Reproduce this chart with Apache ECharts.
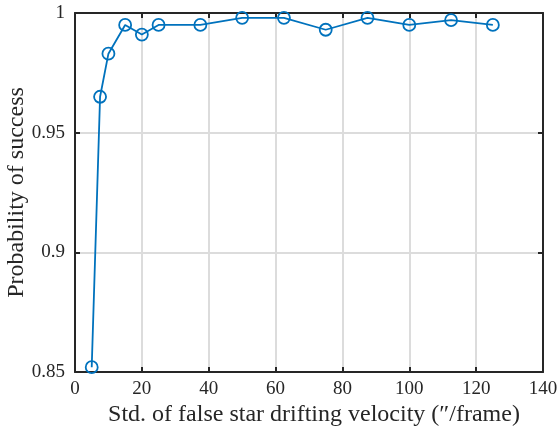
<!DOCTYPE html>
<html><head><meta charset="utf-8">
<script src="https://cdn.jsdelivr.net/npm/echarts@6/dist/echarts.min.js"></script>
<style>html,body{margin:0;padding:0;background:#fff}#c{width:557px;height:432px}</style>
</head><body><div id="c"></div>
<script>
const xValues = [5, 7.5, 10, 15, 20, 25, 37.5, 50, 62.5, 75, 87.5, 100, 112.5, 125];
const yValues = [0.852, 0.965, 0.983, 0.995, 0.991, 0.995, 0.995, 0.998, 0.998, 0.993, 0.998, 0.995, 0.997, 0.995];
const xTicks = [0, 20, 40, 60, 80, 100, 120, 140];
const yTicks = [0.85, 0.9, 0.95, 1];
const xTitle = 'Std. of false star drifting velocity (\u2033/frame)';
const yTitle = 'Probability of success';

const font = 'Liberation Serif, Times New Roman, serif';
const axisCol = '#262626';
const chart = echarts.init(document.getElementById('c'));
const baseX = {
  type: 'value', min: 0, max: 140, interval: 20,
  axisLine: {show: true, onZero: false, lineStyle: {color: axisCol, width: 2}},
  axisTick: {show: true, inside: true, length: 5, lineStyle: {color: axisCol, width: 2}},
};
const baseY = {
  type: 'value', min: 0.85, max: 1, interval: 0.05,
  axisLine: {show: true, onZero: false, lineStyle: {color: axisCol, width: 2}},
  axisTick: {show: true, inside: true, length: 5, lineStyle: {color: axisCol, width: 2}},
};
chart.setOption({
  animation: false,
  grid: {left: 75, right: 14, top: 13, bottom: 60, containLabel: false, outerBoundsMode: 'none'},
  xAxis: [
    Object.assign({}, baseX, {
      position: 'bottom',
      name: xTitle, nameLocation: 'middle', nameGap: 31, nameMoveOverlap: false,
      nameTextStyle: {fontFamily: font, fontSize: 24, color: axisCol, padding: [0, 0, 0, 10]},
      axisLabel: {fontFamily: font, fontSize: 19, color: axisCol, margin: 8,
        formatter: v => xTicks.includes(v) ? String(v) : ''},
      splitLine: {show: true, lineStyle: {color: '#dcdcdc', width: 2}}
    }),
    Object.assign({}, baseX, {position: 'top', axisLabel: {show: false}, splitLine: {show: false}})
  ],
  yAxis: [
    Object.assign({}, baseY, {
      position: 'left',
      name: yTitle, nameLocation: 'middle', nameGap: 46, nameMoveOverlap: false,
      nameTextStyle: {fontFamily: font, fontSize: 24, color: axisCol},
      axisLabel: {fontFamily: font, fontSize: 19, color: axisCol, margin: 10,
        formatter: v => { const t = yTicks.find(k => Math.abs(k - v) < 1e-9); return t === undefined ? '' : String(t); }},
      splitLine: {show: true, lineStyle: {color: '#dcdcdc', width: 2}}
    }),
    Object.assign({}, baseY, {position: 'right', axisLabel: {show: false}, splitLine: {show: false}})
  ],
  series: [{
    type: 'line',
    data: xValues.map((x, i) => [x, yValues[i]]),
    symbol: 'circle', symbolSize: 12,
    itemStyle: {color: 'rgba(0,0,0,0)', borderColor: '#0072BD', borderWidth: 1.8},
    lineStyle: {color: '#0072BD', width: 1.8},
    z: 5
  }]
});
</script></body></html>
